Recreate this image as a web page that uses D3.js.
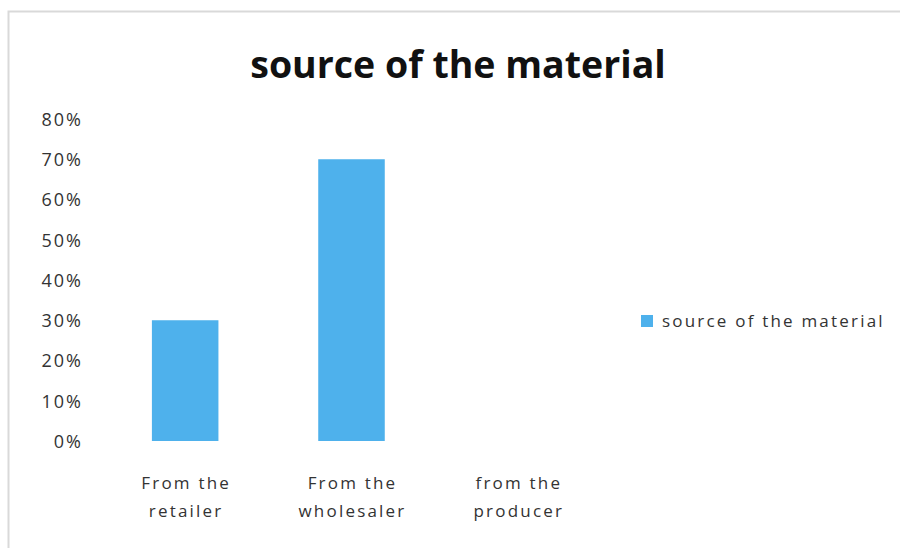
<!DOCTYPE html>
<html>
<head>
<meta charset="utf-8">
<script src="https://cdn.jsdelivr.net/npm/d3@7"></script>
<style>
  body { margin: 0; background: #fff; }
  text { font-family: "Open Sans", Lato, sans-serif; }
</style>
</head>
<body>
<svg width="900" height="548"></svg>
<script>
// chart data
const categories = [["From the", "retailer"], ["From the", "wholesaler"], ["from the", "producer"]];
const values = [0.30, 0.70, 0];
const seriesName = "source of the material";
const yTicks = [0, 0.1, 0.2, 0.3, 0.4, 0.5, 0.6, 0.7, 0.8];

const svg = d3.select("svg");

// faint outer frame
svg.append("path")
    .attr("d", "M8.5,548 V11.5 H900")
    .attr("fill", "none")
    .attr("stroke", "#d9d9d9")
    .attr("stroke-width", 2);

svg.append("text")
    .attr("x", 458)
    .attr("y", 78)
    .attr("text-anchor", "middle")
    .attr("font-size", "37.5px")
    .attr("font-weight", "bold")
    .attr("fill", "#111")
    .text(seriesName);

const x = d3.scaleBand()
    .domain(d3.range(categories.length))
    .range([102, 601])
    .paddingInner(0.6)
    .paddingOuter(0.3);

const y = d3.scaleLinear()
    .domain([0, 0.8])
    .range([441, 119]);

// y axis labels (no line, no ticks)
const yAxis = svg.append("g")
    .attr("transform", "translate(83,0)")
    .call(d3.axisLeft(y).tickValues(yTicks).tickFormat(d3.format(".0%")).tickSize(0).tickPadding(0));
yAxis.select(".domain").remove();
yAxis.selectAll("text")
    .attr("font-size", "18px")
    .attr("fill", "#333")
    .attr("dy", "0.35em")
    .style("letter-spacing", "2px")
    .style("font-family", "'Open Sans', Lato, sans-serif");

svg.append("g")
    .selectAll("rect")
    .data(values)
    .join("rect")
    .attr("x", (d, i) => x(i))
    .attr("y", d => y(d))
    .attr("width", x.bandwidth())
    .attr("height", d => y(0) - y(d))
    .attr("fill", "#4eb1ec");

// category labels
const labels = svg.append("g")
    .selectAll("text")
    .data(categories)
    .join("text")
    .attr("x", (d, i) => x(i) + x.bandwidth() / 2 + 1)
    .attr("y", 489)
    .attr("text-anchor", "middle")
    .attr("font-size", "17px")
    .attr("fill", "#333")
    .style("letter-spacing", "2.2px");
labels.selectAll("tspan")
    .data(d => d)
    .join("tspan")
    .attr("x", function() { return this.parentNode.getAttribute("x"); })
    .attr("dy", (d, i) => i === 0 ? 0 : 28)
    .text(d => d);

// legend
const legend = svg.append("g").attr("transform", "translate(641,315)");
legend.append("rect")
    .attr("width", 12)
    .attr("height", 12)
    .attr("fill", "#4eb1ec");
legend.append("text")
    .attr("x", 21)
    .attr("y", 12)
    .attr("font-size", "17px")
    .attr("fill", "#333")
    .style("letter-spacing", "2.2px")
    .text(seriesName);
</script>
</body>
</html>
